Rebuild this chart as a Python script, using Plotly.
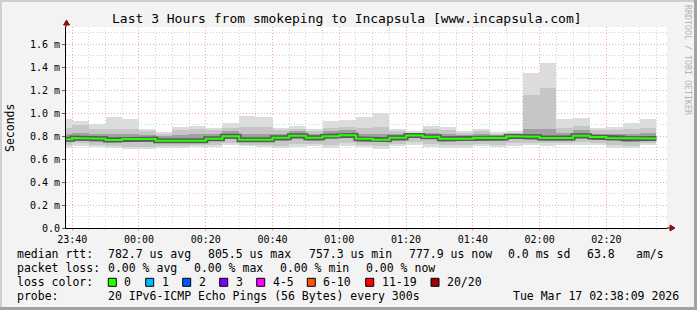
import plotly.graph_objects as go
import pandas as pd

# ---------------- data ----------------
times = ["23:40", "23:45", "23:50", "23:55", "00:00", "00:05", "00:10", "00:15", "00:20",
         "00:25", "00:30", "00:35", "00:40", "00:45", "00:50", "00:55", "01:00", "01:05",
         "01:10", "01:15", "01:20", "01:25", "01:30", "01:35", "01:40", "01:45", "01:50",
         "01:55", "02:00", "02:05", "02:10", "02:15", "02:20", "02:25", "02:30", "02:35"]

median = [0.771, 0.783, 0.777, 0.765, 0.774, 0.774, 0.759, 0.759, 0.759, 0.777, 0.797, 0.768,
          0.768, 0.785, 0.803, 0.785, 0.797, 0.806, 0.777, 0.768, 0.785, 0.805, 0.794, 0.777,
          0.777, 0.785, 0.783, 0.797, 0.794, 0.783, 0.783, 0.803, 0.791, 0.783, 0.777, 0.778]
ping_max = [0.948, 0.930, 0.904, 0.968, 0.948, 0.861, 0.832, 0.881, 0.890, 0.870, 0.913, 0.974,
            0.965, 0.870, 0.884, 0.861, 0.930, 0.939, 0.965, 1.000, 0.861, 0.843, 0.890, 0.881,
            0.843, 0.861, 0.837, 0.843, 1.350, 1.438, 0.950, 0.959, 0.867, 0.878, 0.913, 0.948]
ping_p90 = [0.87, 0.90, 0.86, 0.86, 0.86, 0.84, 0.82, 0.85, 0.86, 0.85, 0.87, 0.88,
            0.88, 0.85, 0.86, 0.84, 0.87, 0.88, 0.87, 0.88, 0.84, 0.83, 0.86, 0.85,
            0.83, 0.84, 0.82, 0.83, 1.16, 1.215, 0.87, 0.89, 0.85, 0.85, 0.86, 0.87]
ping_p75 = [0.82, 0.83, 0.82, 0.82, 0.82, 0.81, 0.80, 0.81, 0.82, 0.82, 0.84, 0.82,
            0.82, 0.82, 0.84, 0.82, 0.84, 0.85, 0.82, 0.82, 0.82, 0.82, 0.83, 0.82,
            0.81, 0.82, 0.81, 0.82, 0.86, 0.86, 0.83, 0.85, 0.82, 0.82, 0.82, 0.83]
ping_p25 = [0.745, 0.76, 0.75, 0.74, 0.745, 0.745, 0.735, 0.735, 0.735, 0.755, 0.77, 0.745,
            0.745, 0.76, 0.775, 0.76, 0.77, 0.78, 0.75, 0.745, 0.76, 0.78, 0.77, 0.75,
            0.755, 0.76, 0.76, 0.77, 0.765, 0.755, 0.76, 0.775, 0.765, 0.755, 0.75, 0.755]
ping_p10 = [0.72, 0.735, 0.725, 0.715, 0.705, 0.705, 0.715, 0.715, 0.72, 0.725, 0.74, 0.725,
            0.72, 0.715, 0.73, 0.73, 0.725, 0.735, 0.725, 0.71, 0.73, 0.745, 0.73, 0.72,
            0.72, 0.73, 0.725, 0.735, 0.74, 0.735, 0.74, 0.745, 0.74, 0.72, 0.715, 0.74]
ping_min = [0.698, 0.716, 0.707, 0.698, 0.684, 0.684, 0.698, 0.698, 0.707, 0.705, 0.72, 0.71,
            0.705, 0.693, 0.707, 0.71, 0.70, 0.71, 0.705, 0.687, 0.71, 0.72, 0.705, 0.70,
            0.70, 0.71, 0.705, 0.71, 0.72, 0.713, 0.72, 0.72, 0.72, 0.70, 0.693, 0.72]

y_ticks = [0.0, 0.2, 0.4, 0.6, 0.8, 1.0, 1.2, 1.4, 1.6]
y_ticklabels = ["0.0", "0.2 m", "0.4 m", "0.6 m", "0.8 m", "1.0 m", "1.2 m", "1.4 m", "1.6 m"]

rtt_stats = [782.7, 805.5, 757.3, 777.9]      # avg, max, min, now (us)
rtt_sd = 0.0
rtt_ams = 63.8
loss_stats = [0.00, 0.00, 0.00, 0.00]         # avg, max, min, now (%)
loss_labels = ["0", "1", "2", "3", "4-5", "6-10", "11-19", "20/20"]
loss_colors = ["#26ff00", "#00b8ff", "#0059ff", "#7e00ff", "#ff00ff", "#ff5500", "#ff0000", "#a10000"]
probe_text = "20 IPv6-ICMP Echo Pings (56 Bytes) every 300s"
stamp_text = "Tue Mar 17 02:38:09 2026"
title_text = "Last 3 Hours from smokeping to Incapsula [www.incapsula.com]"

# ---------------- build ----------------
ends = [pd.Timestamp(("2026-03-16 " if t.startswith("23") else "2026-03-17 ") + t) for t in times]
step = pd.Timedelta(seconds=300)
centers = [e - step / 2 for e in ends]
x_start = pd.Timestamp("2026-03-16 23:38:09")
x_end = pd.Timestamp("2026-03-17 02:38:09")

MONO = "DejaVu Sans Mono"
fig = go.Figure()

levels = [(ping_min, ping_max, "#dcdcdc"),
          (ping_p10, ping_p90, "#c6c6c6"),
          (ping_p25, ping_p75, "#a0a0a0")]
for lo, hi, col in levels:
    fig.add_trace(go.Bar(x=centers, y=[h - l for l, h in zip(lo, hi)], base=lo,
                         width=300000, marker=dict(color=col, line=dict(width=0)),
                         hoverinfo="skip", showlegend=False))

mx, my = [], []
for e, m in zip(ends, median):
    mx += [e - step, e]
    my += [m, m]
fig.add_trace(go.Scatter(x=mx, y=my, mode="lines", line=dict(color="#5a5a5a", width=5),
                         hoverinfo="skip", showlegend=False))
fig.add_trace(go.Scatter(x=mx, y=my, mode="lines", line=dict(color="#26ff00", width=2),
                         hoverinfo="skip", showlegend=False))

# pixel helpers for the frame / legend (plot area: x 66..667, y 27..228)
L, R, T, B = 66, 667, 27, 228
def px(x):
    return (x - L) / (R - L)
def py(y):
    return (B - y) / (B - T)

shapes = []
annots = []

def text(s, x, y, size=11.5, anchor="left", color="#000000"):
    annots.append(dict(text=s, x=px(x), y=py(y), xref="paper", yref="paper",
                       xanchor=anchor, yanchor="middle", showarrow=False, borderpad=0,
                       font=dict(family=MONO, size=size, color=color)))

# title
text(title_text, 347, 19, size=13, anchor="center")
# y title
annots.append(dict(text="Seconds", x=px(10), y=py(128), xref="paper", yref="paper",
                   xanchor="center", yanchor="middle", showarrow=False, textangle=-90,
                   font=dict(family=MONO, size=11.5, color="#000000")))
# watermark
annots.append(dict(text="RRDTOOL / TOBI OETIKER", x=px(688), y=py(60), xref="paper", yref="paper",
                   xanchor="center", yanchor="middle", showarrow=False, textangle=90,
                   font=dict(family=MONO, size=8.3, color="#b4b4b4")))

# legend lines
y1, y2, y3, y4 = 254, 268.3, 282.3, 296
text("median rtt:", 16, y1)
text(f"{rtt_stats[0]:.1f} us avg", 107.3, y1)
text(f"{rtt_stats[1]:.1f} us max", 207.3, y1)
text(f"{rtt_stats[2]:.1f} us min", 308.3, y1)
text(f"{rtt_stats[3]:.1f} us now", 407.7, y1)
text(f"{rtt_sd:.1f} ms sd", 507.3, y1)
text(f"{rtt_ams:.1f}", 586, y1)
text("am/s", 635.3, y1)

text("packet loss:", 16, y2)
for v, lab, xx in zip(loss_stats, ["avg", "max", "min", "now"], [107.3, 193.3, 279.3, 365]):
    text(f"{v:.2f} % {lab}", xx, y2)

text("loss color:", 16, y3)
box_x = [108.3, 145.7, 182.7, 219.7, 256.7, 307.3, 365.7, 431]
for lab, col, bx in zip(loss_labels, loss_colors, box_x):
    shapes.append(dict(type="rect", xref="paper", yref="paper",
                       x0=px(bx), x1=px(bx + 8), y0=py(y3 + 4), y1=py(y3 - 4),
                       fillcolor=col, line=dict(color="#000000", width=1)))
    text(lab, bx + 15, y3)

text("probe:", 16, y4)
text(probe_text, 107.3, y4)
text(stamp_text, 680, y4, anchor="right")

# axis arrows
AR = "#8b1010"
shapes.append(dict(type="line", xref="paper", yref="paper", x0=px(R), x1=px(671), y0=0, y1=0,
                   line=dict(color="#000000", width=1)))
shapes.append(dict(type="path", xref="paper", yref="paper",
                   path=f"M {px(670)} {py(225)} L {px(675)} {py(228)} L {px(670)} {py(231)} Z",
                   fillcolor=AR, line=dict(color=AR, width=1)))
shapes.append(dict(type="line", xref="paper", yref="paper", x0=0, x1=0, y0=1, y1=py(23),
                   line=dict(color="#000000", width=1)))
shapes.append(dict(type="path", xref="paper", yref="paper",
                   path=f"M {px(63.5)} {py(25)} L {px(66.5)} {py(20)} L {px(69.5)} {py(25)} Z",
                   fillcolor=AR, line=dict(color=AR, width=1)))

# 3D frame
shapes.append(dict(type="line", xref="paper", yref="paper", x0=px(0), x1=px(697), y0=py(1), y1=py(1),
                   line=dict(color="#cfcfcf", width=2)))
shapes.append(dict(type="line", xref="paper", yref="paper", x0=px(1), x1=px(1), y0=py(0), y1=py(310),
                   line=dict(color="#cfcfcf", width=2)))
shapes.append(dict(type="line", xref="paper", yref="paper", x0=px(0), x1=px(697), y0=py(308.5), y1=py(308.5),
                   line=dict(color="#a2a2a2", width=3)))
shapes.append(dict(type="line", xref="paper", yref="paper", x0=px(695.5), x1=px(695.5), y0=py(0), y1=py(310),
                   line=dict(color="#a2a2a2", width=3)))

GRID_MAJ = "#f2a6a6"
GRID_MIN = "#d2d2d2"
fig.update_layout(
    width=697, height=310, autosize=False,
    margin=dict(l=L, r=697 - R, t=T, b=310 - B, pad=0),
    paper_bgcolor="#f3f3f3", plot_bgcolor="#ffffff",
    barmode="overlay", bargap=0, showlegend=False,
    shapes=shapes, annotations=annots,
    xaxis=dict(type="date", range=[x_start, x_end], tick0="2026-03-16 00:00:00", dtick=1200000,
               tickformat="%H:%M", showgrid=True, gridcolor=GRID_MAJ, griddash="1px,2px", gridwidth=1,
               ticks="outside", ticklen=2, tickcolor=GRID_MAJ,
               tickfont=dict(family=MONO, size=10, color="#000000"),
               minor=dict(dtick=300000, showgrid=True, gridcolor=GRID_MIN, griddash="1px,2px",
                          ticks="outside", ticklen=1, tickcolor=GRID_MIN),
               showline=True, linecolor="#000000", linewidth=1, zeroline=False, fixedrange=True),
    yaxis=dict(range=[0, 1.748], tickvals=y_ticks, ticktext=y_ticklabels,
               showgrid=True, gridcolor=GRID_MAJ, griddash="1px,2px", gridwidth=1,
               ticks="outside", ticklen=3, tickcolor="#606060",
               tickfont=dict(family=MONO, size=10, color="#000000"),
               minor=dict(dtick=0.1, tick0=0, showgrid=True, gridcolor=GRID_MIN, griddash="1px,2px"),
               showline=True, linecolor="#000000", linewidth=1, zeroline=False, fixedrange=True),
)

fig.write_html("out.html")
